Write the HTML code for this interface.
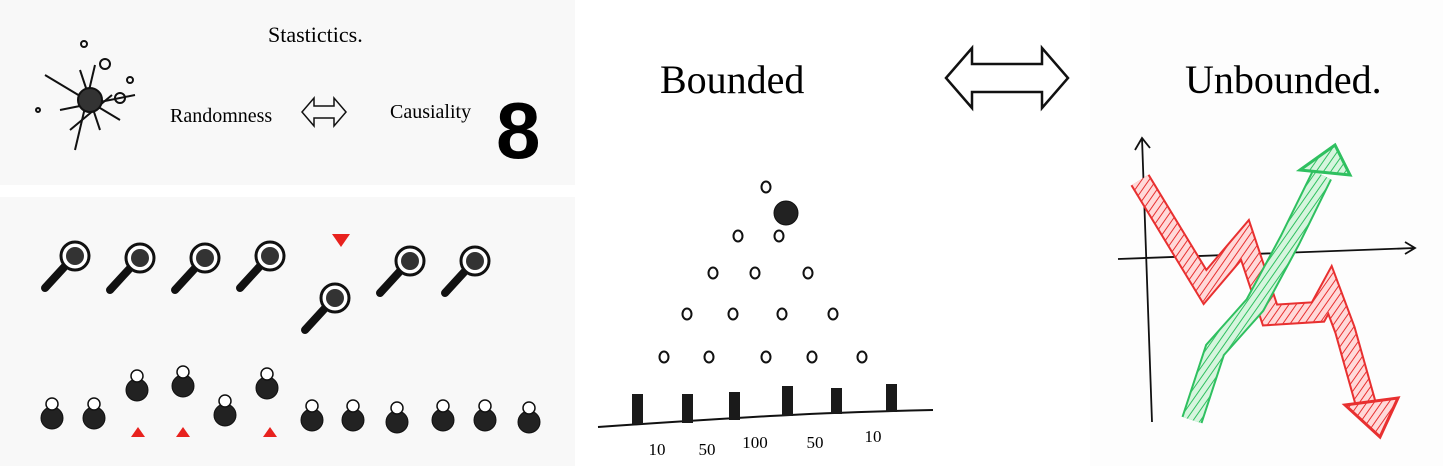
<!DOCTYPE html>
<html><head><meta charset="utf-8"><style>
html,body{margin:0;padding:0;background:#fbfbfb;}
svg{display:block;font-family:"Liberation Sans",sans-serif;}
</style></head><body>
<svg width="1443" height="466" viewBox="0 0 1443 466" xmlns="http://www.w3.org/2000/svg">
<defs>
<pattern id="hr" width="6" height="6" patternUnits="userSpaceOnUse" patternTransform="rotate(35)"><rect width="6" height="6" fill="#ffd9d9"/><line x1="0" y1="0" x2="0" y2="6" stroke="#e83030" stroke-width="2"/></pattern>
<pattern id="hg" width="6" height="6" patternUnits="userSpaceOnUse" patternTransform="rotate(35)"><rect width="6" height="6" fill="#d6f5de"/><line x1="0" y1="0" x2="0" y2="6" stroke="#2fc060" stroke-width="2"/></pattern>
</defs>
<rect width="1443" height="466" fill="#ffffff"/>
<rect x="0" y="0" width="575" height="185" fill="#f8f8f8"/>
<rect x="0" y="197" width="575" height="269" fill="#f8f8f8"/>
<rect x="1090" y="0" width="353" height="466" fill="#fdfdfd"/>

<text x="268" y="42" font-size="22" font-family="Liberation Serif,serif">Stastictics.</text>
<g stroke="#111" stroke-width="2" fill="none">
<line x1="45" y1="75" x2="120" y2="120"/><line x1="60" y1="110" x2="135" y2="95"/><line x1="95" y1="65" x2="75" y2="150"/><line x1="80" y1="70" x2="100" y2="130"/><line x1="70" y1="130" x2="112" y2="95"/>
<circle cx="90" cy="100" r="12" fill="#333"/><circle cx="84" cy="44" r="3"/><circle cx="130" cy="80" r="3"/><circle cx="38" cy="110" r="2"/><circle cx="105" cy="64" r="5"/><circle cx="120" cy="98" r="5"/>
</g>
<text x="170" y="122" font-size="20" font-family="Liberation Serif,serif">Randomness</text>
<path d="M302 112 l12 -14 v8 h20 v-8 l12 14 l-12 14 v-8 h-20 v8 z" fill="none" stroke="#111" stroke-width="1.5"/>
<text x="390" y="118" font-size="20" font-family="Liberation Serif,serif">Causiality</text>
<text x="496" y="158" font-size="80" font-weight="bold" font-family="Liberation Sans,sans-serif">8</text>

<g id="mags"></g>
<path d="M332 234 h18 l-9 13 z" fill="#e8221e"/>
<g id="pawns"></g>

<text x="660" y="93" font-size="40" font-family="Liberation Serif,serif">Bounded</text>
<path d="M946 78 l26 -30 v16 h70 v-16 l26 30 l-26 30 v-16 h-70 v16 z" fill="none" stroke="#111" stroke-width="2.5"/>
<text x="1185" y="93" font-size="40" font-family="Liberation Serif,serif">Unbounded.</text>

<g id="galton"></g>
<g id="trend"></g>
</svg>
<script>
const NS='http://www.w3.org/2000/svg';
function mk(t,a,p){const e=document.createElementNS(NS,t);for(const k in a)e.setAttribute(k,a[k]);p.appendChild(e);return e;}
// magnifiers
const magX=[75,140,205,270,335,410,475];
const magY=[260,262,262,260,302,265,265];
const mg=document.getElementById('mags');
magX.forEach((x,i)=>{const g=mk('g',{},mg);


mk('line',{x1:x-30,y1:magY[i]+28,x2:x-8,y2:magY[i]+4,stroke:'#111','stroke-width':8,'stroke-linecap':'round'},g);
mk('circle',{cx:x,cy:magY[i]-4,r:14,fill:'#fff',stroke:'#111','stroke-width':3},g);
mk('circle',{cx:x,cy:magY[i]-4,r:9,fill:'#333'},g);});
// pawns
const pawnX=[52,94,137,183,225,267,312,353,397,443,485,529];
const pawnY=[418,418,390,386,415,388,420,420,422,420,420,422];
const triX=[138,183,270];
const pg=document.getElementById('pawns');
pawnX.forEach((x,i)=>{const y=pawnY[i];const g=mk('g',{},pg);


mk('ellipse',{cx:x,cy:y,rx:11,ry:11,fill:'#222',stroke:'#111'},g);
mk('circle',{cx:x,cy:y-14,r:6,fill:'#fff',stroke:'#111','stroke-width':1.5},g);});
triX.forEach(x=>{const t=mk('path',{d:`M${x-7} 437 h14 l-7 -10 z`,fill:'#e8221e'},pg);

});
// galton board
const binLabels=['10','50','100','50','10'];
const binCounts=[30,29,28,30,26,28];
const pegRows=[[766],[738,779],[713,755,808],[687,733,782,833],[664,709,766,812,862]];
const pegRowY=[187,236,273,314,357];
const gb=document.getElementById('galton');
mk('path',{d:'M598 427 Q700 420 770 416 T933 410',stroke:'#111','stroke-width':2,fill:'none'},gb);
const binX=[637,687,734,787,836,891];
const baseY=[424,423,420,416,414,412];
binCounts.forEach((h,i)=>{const r=mk('rect',{x:binX[i]-5,y:baseY[i]-h,width:11,height:h,fill:'#1a1a1a'},gb);

});
const lx=[657,707,755,815,873],ly=[455,455,448,448,442];
binLabels.forEach((l,i)=>{const t=mk('text',{x:lx[i],y:ly[i],'font-size':17,'text-anchor':'middle','font-family':'Liberation Serif,serif'},gb);t.textContent=l;

});
pegRows.forEach((row,r)=>row.forEach(x=>{const c=mk('ellipse',{cx:x,cy:pegRowY[r]+(r==1?0:0),rx:4.5,ry:5.5,fill:'none',stroke:'#111','stroke-width':2},gb);

}));
const ball=mk('circle',{cx:786,cy:213,r:12,fill:'#222',stroke:'#111'},gb);

// trend chart
const tg=document.getElementById('trend');
mk('path',{d:'M1118 259 L1415 248 M1405 242 L1415 248 L1405 254',stroke:'#111','stroke-width':1.8,fill:'none'},tg);
mk('path',{d:'M1152 422 L1142 138 M1135 150 L1142 138 L1150 148',stroke:'#111','stroke-width':1.8,fill:'none'},tg);
const redX=[1140,1205,1245,1270,1318,1330,1345,1368];
const redY=[180,287,240,315,312,290,330,412];
const greenX=[1192,1215,1255,1290,1322];
const greenY=[420,350,305,240,175];
function line(xs,ys,fill,stroke,name){const d=xs.map((x,i)=>(i?'L':'M')+x+' '+ys[i]).join(' ');
const o=mk('path',{d:d,stroke:stroke,'stroke-width':22,fill:'none','stroke-linejoin':'miter'},tg);
const p=mk('path',{d:d,stroke:fill,'stroke-width':18,fill:'none','stroke-linejoin':'miter'},tg);


return p;}
line(redX,redY,'url(#hr)','#e83030','red-series');
line(greenX,greenY,'url(#hg)','#2fc060','green-series');
const ra=mk('path',{d:'M1345 405 L1398 398 L1380 437 z',fill:'url(#hr)',stroke:'#e83030','stroke-width':3},tg);

const ga=mk('path',{d:'M1300 170 L1335 145 L1350 175 z',fill:'url(#hg)',stroke:'#2fc060','stroke-width':3},tg);

</script>
</body></html>
